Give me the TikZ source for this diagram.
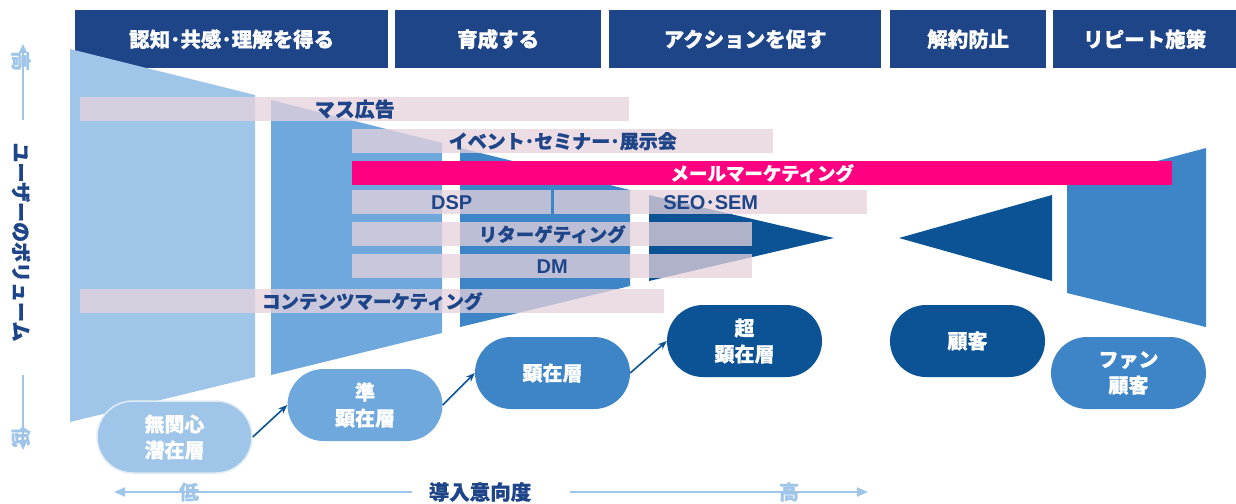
\documentclass[tikz,border=0pt]{standalone}
\usepackage{fontspec}
\setmainfont{Noto Sans CJK JP}[BoldFeatures={FakeBold=0.8}]
\newfontfamily\latfont{Liberation Sans}
\usetikzlibrary{arrows.meta}
\definecolor{hdr}{HTML}{1F4589}
\definecolor{fA}{HTML}{9FC5E8}
\definecolor{fB}{HTML}{6FA8DC}
\definecolor{fC}{HTML}{3D85C6}
\definecolor{fD}{HTML}{0B5394}
\definecolor{mag}{HTML}{FF0080}
\definecolor{barpink}{RGB}{230,210,219}
\definecolor{pillrim}{HTML}{E2EBF4}
\begin{document}
\begin{tikzpicture}[x=1pt,y=-1pt,
  hbox/.style={fill=hdr, text=white, font=\bfseries\fontsize{20.5}{22}\selectfont,
    inner sep=0pt, anchor=north west, minimum height=58pt},
  barbox/.style={fill=barpink, fill opacity=0.75, text opacity=1, text=hdr,
    font=\bfseries\fontsize{18.5}{22}\selectfont, inner sep=0pt, anchor=north west,
    minimum height=24pt},
  pill/.style={rounded corners=36pt, minimum width=155pt, minimum height=72pt,
    text=white, font=\bfseries\fontsize{20}{26}\selectfont, align=center, inner sep=0pt},
  conn/.style={draw=fD, line width=1.6pt, -{Stealth[length=9pt,width=7pt]}},
  axisarr/.style={draw=fA, line width=2pt, -{Triangle[length=11pt,width=9pt]}},
  vaxisarr/.style={draw=fA, line width=1.8pt, -{Triangle[length=9pt,width=8pt]}},
  axistxt/.style={text=fA, font=\bfseries\fontsize{20}{22}\selectfont, inner sep=0pt},
  lbl/.style={text=hdr, font=\bfseries\fontsize{20}{22}\selectfont, inner sep=0pt}
]
\useasboundingbox (0,0) rectangle (1236,503);

% header boxes
\node[hbox, minimum width=313pt] (h1) at (75,10) {認知･共感･理解を得る};
\node[hbox, minimum width=206pt] (h2) at (395,10) {育成する};
\node[hbox, minimum width=272pt] (h3) at (609,10) {アクションを促す};
\node[hbox, minimum width=156pt] (h4) at (890,10) {解約防止};
\node[hbox, minimum width=183pt] (h5) at (1053,10) {リピート施策};

% funnel shapes
\fill[fA] (70,49) -- (255,95) -- (255,377) -- (70,422) -- cycle;
\fill[fB] (271,100) -- (442,143) -- (442,333) -- (271,375) -- cycle;
\fill[fC] (460,148) -- (630,190) -- (630,286) -- (460,327) -- cycle;
\fill[fD] (649,195) -- (834,238) -- (649,281) -- cycle;
\fill[fD] (1052,195) -- (899,238) -- (1052,281) -- cycle;
\fill[fC] (1067,185) -- (1206,148) -- (1206,327) -- (1067,293) -- cycle;

% bars
\node[barbox, minimum width=549pt, font=\bfseries\fontsize{20}{22}\selectfont] (b1) at (80,97) {マス広告};
\node[barbox, minimum width=421pt, font=\bfseries\fontsize{19}{22}\selectfont] (b2) at (352,129) {イベント･セミナー･展示会};
\node[barbox, fill=mag, fill opacity=1, text=white, minimum width=820pt] (b3) at (352,161) {メールマーケティング};
\node[barbox, minimum width=199pt] (b4) at (352,190) {\latfont\fontsize{20}{22}\selectfont DSP};
\node[barbox, minimum width=313pt] (b5) at (554,190) {{\latfont\fontsize{20}{22}\selectfont SEO}･{\latfont\fontsize{20}{22}\selectfont SEM}};
\node[barbox, minimum width=400pt] (b6) at (352,222) {リターゲティング};
\node[barbox, minimum width=400pt] (b7) at (352,254) {\latfont\fontsize{20}{22}\selectfont DM};
\node[barbox, minimum width=584pt] (b8) at (80,289) {コンテンツマーケティング};

% pills
\node[pill, fill=fA, draw=pillrim, line width=1.5pt] (p1) at (174.5,437) {無関心\\潜在層};
\node[pill, fill=fB] (p2) at (365,405) {準\\顕在層};
\node[pill, fill=fC] (p3) at (552.5,373) {顕在層};
\node[pill, fill=fD] (p4) at (744.5,341) {超\\顕在層};
\node[pill, fill=fD] (p5) at (967.5,341) {顧客};
\node[pill, fill=fC] (p6) at (1128.5,373) {ファン\\顧客};

\draw[conn] (p1.east) -- (p2.west);
\draw[conn] (p2.east) -- (p3.west);
\draw[conn] (p3.east) -- (p4.west);

% left axis
\coordinate (vu1) at (23,120);
\coordinate (vu2) at (23,44);
\coordinate (vd1) at (23,375);
\coordinate (vd2) at (23,450);
\draw[vaxisarr] (vu1) -- (vu2);
\draw[vaxisarr] (vd1) -- (vd2);
\node[axistxt, rotate=-90] (vhi) at (21,61) {高};
\node[axistxt, rotate=-90] (vlo) at (21,437) {低};
\node[lbl, rotate=-90] (vt) at (21,242) {ユーザーのボリューム};

% bottom axis
\coordinate (hl1) at (412,492);
\coordinate (hl2) at (114,492);
\coordinate (hr1) at (570,492);
\coordinate (hr2) at (868,492);
\draw[axisarr] (hl1) -- (hl2);
\draw[axisarr] (hr1) -- (hr2);
\node[axistxt] (hlo) at (189,492) {低};
\node[axistxt] (hhi) at (789,492) {高};
\node[lbl, font=\bfseries\fontsize{20.5}{22}\selectfont] (ht) at (480,492) {導入意向度};
\end{tikzpicture}
\end{document}
